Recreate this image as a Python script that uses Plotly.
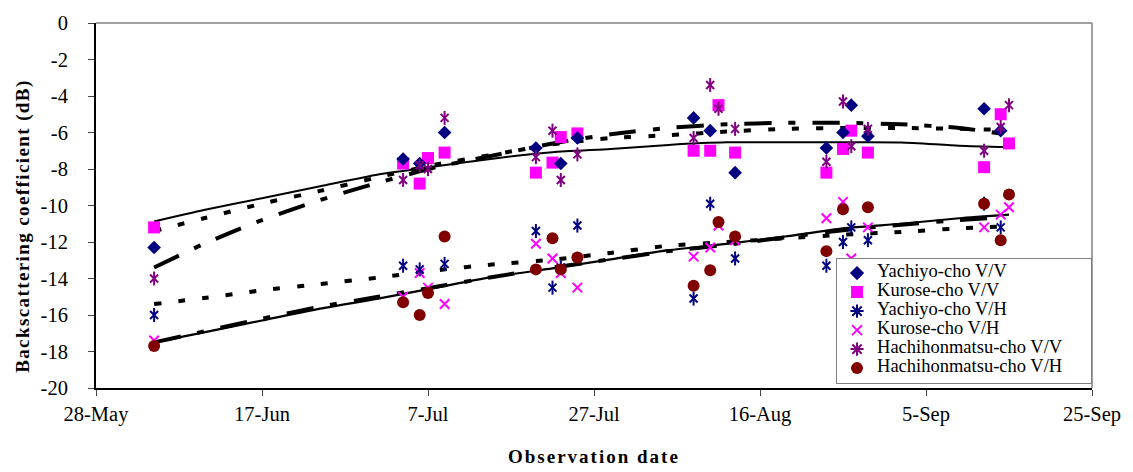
import plotly.graph_objects as go

YEAR = 2004


def dates(md_list):
    return [f"{YEAR}-{md}" for md in md_list]


# ---------------- observation data (dB) ----------------
yachiyo_vv_dates = ["06-04", "07-04", "07-06", "07-09", "07-20", "07-23", "07-25",
                    "08-08", "08-10", "08-13", "08-24", "08-26", "08-27", "08-29",
                    "09-12", "09-14"]
yachiyo_vv = [-12.3, -7.45, -7.7, -6.0, -6.85, -7.7, -6.3,
              -5.2, -5.9, -8.2, -6.85, -6.0, -4.5, -6.2,
              -4.7, -5.9]

kurose_dates = ["06-04", "07-04", "07-06", "07-07", "07-09", "07-20", "07-22", "07-23",
                "07-25", "08-08", "08-10", "08-11", "08-13", "08-24", "08-26", "08-27",
                "08-29", "09-12", "09-14", "09-15"]
kurose_vv = [-11.2, -7.7, -8.8, -7.4, -7.1, -8.2, -7.65, -6.25,
             -6.05, -7.0, -7.0, -4.5, -7.1, -8.2, -6.9, -5.9,
             -7.1, -7.9, -5.0, -6.6]

hachi_vv_dates = kurose_dates
hachi_vv = [-14.0, -8.6, -7.8, -8.0, -5.2, -7.35, -5.9, -8.6,
            -7.2, -6.3, -3.4, -4.7, -5.8, -7.6, -4.3, -6.75,
            -5.8, -7.0, -5.7, -4.5]

yachiyo_vh_dates = ["06-04", "07-04", "07-06", "07-09", "07-20", "07-22", "07-23", "07-25",
                    "08-08", "08-10", "08-13", "08-24", "08-26", "08-27", "08-29",
                    "09-12", "09-14"]
yachiyo_vh = [-16.0, -13.3, -13.5, -13.2, -11.4, -14.5, -13.4, -11.1,
              -15.1, -9.9, -12.9, -13.3, -12.0, -11.2, -11.9,
              -9.9, -11.2]

kurose_vh = [-17.4, -15.0, -13.7, -14.5, -15.4, -12.1, -12.9, -13.7,
             -14.5, -12.8, -12.3, -11.1, -11.9, -10.7, -9.8, -12.9,
             -11.2, -11.2, -10.5, -10.1]

hachi_vh_dates = ["06-04", "07-04", "07-06", "07-07", "07-09", "07-20", "07-22", "07-23",
                  "07-25", "08-08", "08-10", "08-11", "08-13", "08-24", "08-26", "08-29",
                  "09-12", "09-14", "09-15"]
hachi_vh = [-17.7, -15.3, -16.0, -14.8, -11.7, -13.5, -11.8, -13.5,
            -12.85, -14.4, -13.55, -10.9, -11.7, -12.5, -10.2, -10.1,
            -9.9, -11.9, -9.4]

# ---------------- fitted curves ----------------
curve_dates_solid = ["06-04", "06-10", "06-17", "06-24", "07-01", "07-08", "07-15", "07-22",
                     "07-29", "08-05", "08-12", "08-19", "08-26", "09-02", "09-09", "09-15"]
curve_dates_dash = curve_dates_solid[:-1] + ["09-14"]

upper_solid = [-10.88, -10.25, -9.6, -8.95, -8.3, -7.85, -7.42, -7.08,
               -6.9, -6.68, -6.54, -6.54, -6.54, -6.55, -6.72, -6.8]
upper_short_dash = [-11.4, -10.7, -9.9, -9.2, -8.45, -7.75, -7.2, -6.65,
                    -6.3, -6.15, -5.95, -5.8, -5.75, -5.75, -5.8, -5.85]
upper_long_dash = [-13.4, -12.1, -10.8, -9.7, -8.75, -7.9, -7.25, -6.6,
                   -6.1, -5.75, -5.55, -5.47, -5.47, -5.55, -5.75, -6.05]
lower_short_dash = [-15.4, -15.07, -14.65, -14.3, -13.95, -13.55, -13.22, -12.97,
                    -12.6, -12.2, -12.0, -11.8, -11.6, -11.45, -11.25, -11.15]
lower_solid = [-17.5, -16.95, -16.3, -15.65, -15.1, -14.5, -13.9, -13.45,
               -12.95, -12.45, -12.1, -11.7, -11.25, -11.0, -10.7, -10.5]
lower_long_dash = [-17.5, -16.9, -16.2, -15.55, -15.0, -14.45, -13.9, -13.4,
                   -12.95, -12.5, -12.15, -11.75, -11.35, -11.05, -10.8, -10.65]

x_ticks = ["05-28", "06-17", "07-07", "07-27", "08-16", "09-05", "09-25"]
y_ticks = [0, -2, -4, -6, -8, -10, -12, -14, -16, -18, -20]
y_tick_labels = [str(v) for v in y_ticks]

NAVY = "#000080"
MAGENTA = "#FF00FF"
PURPLE = "#800080"
MAROON = "#800000"
FONT = "Liberation Serif, Times New Roman, serif"

fig = go.Figure()

# curves
curve_specs = [
    (curve_dates_solid, upper_solid, "solid", 2),
    (curve_dates_dash, upper_short_dash, "7px,17px", 4),
    (curve_dates_dash, upper_long_dash, "27px,17px,7px,17px", 4),
    (curve_dates_dash, lower_short_dash, "7px,17px", 4),
    (curve_dates_solid, lower_solid, "solid", 2.2),
    (curve_dates_dash, lower_long_dash, "27px,17px,7px,17px", 4),
]
for xs, ys, dash, w in curve_specs:
    fig.add_trace(go.Scatter(x=dates(xs), y=ys, mode="lines",
                             line=dict(color="black", width=w, dash=dash, shape="spline", smoothing=0.6),
                             showlegend=False, hoverinfo="skip"))


def add_points(xs, ys, symbol, color, size, width=2):
    if symbol.endswith("open"):
        marker = dict(symbol=symbol, size=size, color=color, line=dict(color=color, width=width))
    else:
        marker = dict(symbol=symbol, size=size, color=color, line=dict(width=0))
    fig.add_trace(go.Scatter(x=dates(xs), y=ys, mode="markers", marker=marker,
                             showlegend=False))


def add_star(xs, ys, color):
    add_points(xs, ys, "x-thin-open", color, 8, 2)
    add_points(xs, ys, "line-ns-open", color, 10, 2)


add_points(kurose_dates, kurose_vh, "x-thin-open", MAGENTA, 9.5, 2)
add_star(yachiyo_vh_dates, yachiyo_vh, NAVY)
add_points(hachi_vh_dates, hachi_vh, "circle", MAROON, 12)
add_points(kurose_dates, kurose_vv, "square", MAGENTA, 12)
add_points(yachiyo_vv_dates, yachiyo_vv, "diamond", NAVY, 10.5)
add_star(hachi_vv_dates, hachi_vv, PURPLE)

# legend entries
PAD = "\u00a0" * 5
legend_items = [
    ("Yachiyo-cho V/V", "diamond", NAVY, 11),
    ("Kurose-cho V/V", "square", MAGENTA, 12),
    ("Yachiyo-cho V/H", "asterisk-open", NAVY, 11),
    ("Kurose-cho V/H", "x-thin-open", MAGENTA, 10),
    ("Hachihonmatsu-cho V/V", "asterisk-open", PURPLE, 11),
    ("Hachihonmatsu-cho V/H", "circle", MAROON, 12),
]
for name, sym, col, sz in legend_items:
    if sym.endswith("open"):
        mk = dict(symbol=sym, size=sz, color=col, line=dict(color=col, width=2))
    else:
        mk = dict(symbol=sym, size=sz, color=col, line=dict(width=0))
    fig.add_trace(go.Scatter(x=[None], y=[None], mode="markers", marker=mk,
                             name=f'<span style="font-size:18.5px">{name}{PAD}</span>'))

fig.update_layout(
    width=1133, height=472,
    margin=dict(l=96, r=36, t=15, b=84),
    paper_bgcolor="white", plot_bgcolor="white",
    font=dict(family=FONT, color="black", size=20.5),
    showlegend=True,
    legend=dict(x=0.743, y=0.012, xanchor="left", yanchor="bottom",
                bgcolor="white", bordercolor="#808080", borderwidth=1,
                font=dict(family=FONT, size=10.5, color="black"),
                itemwidth=30, tracegroupgap=0),
    xaxis=dict(type="date", range=[f"{YEAR}-05-28", f"{YEAR}-09-25"],
               tickvals=dates(x_ticks), tickformat="%-d-%b",
               showgrid=False, zeroline=False,
               showline=True, linecolor="black", linewidth=2,
               ticks="outside", ticklen=6, tickcolor="#444", tickwidth=1,
               tickfont=dict(family=FONT, size=20.5, color="black")),
    yaxis=dict(range=[-20, 0], tickvals=y_ticks, ticktext=y_tick_labels,
               showgrid=False, zeroline=False,
               showline=True, linecolor="black", linewidth=2,
               ticks="outside", ticklen=6, tickcolor="#444", tickwidth=1,
               ticklabelstandoff=16,
               tickfont=dict(family=FONT, size=20.5, color="black")),
    shapes=[
        dict(type="line", xref="paper", yref="paper", x0=0, x1=1, y0=1, y1=1,
             line=dict(color="#808080", width=1.5)),
        dict(type="line", xref="paper", yref="paper", x0=1, x1=1, y0=0, y1=1,
             line=dict(color="#808080", width=1.5)),
    ],
    annotations=[
        dict(text='<b><span style="letter-spacing:2px">Observation date</span></b>',
             xref="paper", yref="paper", x=0.5, y=-0.188, xanchor="center", yanchor="middle",
             showarrow=False, font=dict(family=FONT, size=19, color="black")),
        dict(text='<b><span style="letter-spacing:1.4px">Backscattering coefficient (dB)</span></b>',
             xref="paper", yref="paper", x=-0.074, y=0.445, xanchor="center", yanchor="middle",
             textangle=-90, showarrow=False, font=dict(family=FONT, size=19, color="black")),
    ],
)

fig.write_html("out.html")
